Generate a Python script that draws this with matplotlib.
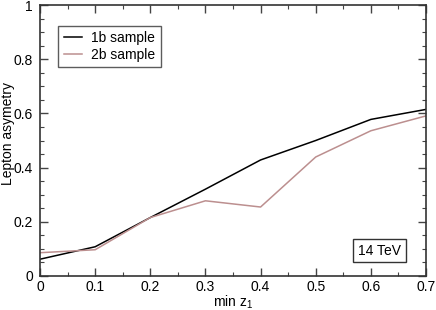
import numpy as np
import matplotlib
matplotlib.use("Agg")
import matplotlib.pyplot as plt
from matplotlib.ticker import MultipleLocator, FuncFormatter

plt.rcParams['font.family'] = ['Liberation Sans', 'DejaVu Sans']
plt.rcParams['mathtext.fontset'] = 'custom'
plt.rcParams['mathtext.rm'] = 'Liberation Sans'

min_z1 = [0.0, 0.1, 0.2, 0.3, 0.4, 0.5, 0.6, 0.7]
asym_1b = [0.061, 0.107, 0.215, 0.32, 0.428, 0.50, 0.578, 0.615]
asym_2b = [0.085, 0.096, 0.215, 0.277, 0.254, 0.439, 0.536, 0.591]


def fmt(v, p):
    if abs(v) < 1e-9:
        return '0'
    if abs(v - 1) < 1e-9:
        return '1'
    return f'{v:.1f}'


fig = plt.figure(figsize=(4.36, 3.10), dpi=100)
ax = fig.add_axes([40 / 436, 1 - 275.7 / 310, 386 / 436, 270.4 / 310])

ax.plot(min_z1, asym_1b, color='black', lw=1.1, label='1b sample')
ax.plot(min_z1, asym_2b, color='#bc8f8f', lw=1.1, label='2b sample')

ax.set_xlim(0, 0.7)
ax.set_ylim(0, 1)
ax.xaxis.set_major_locator(MultipleLocator(0.1))
ax.xaxis.set_minor_locator(MultipleLocator(0.05))
ax.yaxis.set_major_locator(MultipleLocator(0.2))
ax.yaxis.set_minor_locator(MultipleLocator(0.05))
ax.xaxis.set_major_formatter(FuncFormatter(fmt))
ax.yaxis.set_major_formatter(FuncFormatter(fmt))
ax.tick_params(which='both', direction='in', top=True, right=True, labelsize=10, color='#444444')
ax.tick_params(which='major', length=6, width=1)
ax.tick_params(axis='y', which='major', pad=5)
ax.tick_params(axis='x', which='major', pad=3)
ax.tick_params(which='minor', length=3, width=0.8)
for s in ax.spines.values():
    s.set_color('#333333')
    s.set_linewidth(1.2)

ax.set_xlabel('min z$_\\mathregular{1}$', fontsize=10, labelpad=0)
ax.set_ylabel('Lepton asymetry', fontsize=10)
ax.yaxis.set_label_coords(-0.066, 0.526)

leg = ax.legend(loc='upper left', bbox_to_anchor=(0.047, 0.925), fontsize=10, frameon=True, fancybox=False,
                handlelength=1.3, borderpad=0.4, labelspacing=0.2, handletextpad=0.7, borderaxespad=0)
leg.get_frame().set_edgecolor('#333333')
leg.get_frame().set_linewidth(1.0)

ax.text(0.616, 0.093, '14 TeV', fontsize=10, ha='center', va='center',
        bbox=dict(boxstyle='square,pad=0.35', fc='white', ec='#333333', lw=1.0))

fig.savefig('out.png', dpi=100)
